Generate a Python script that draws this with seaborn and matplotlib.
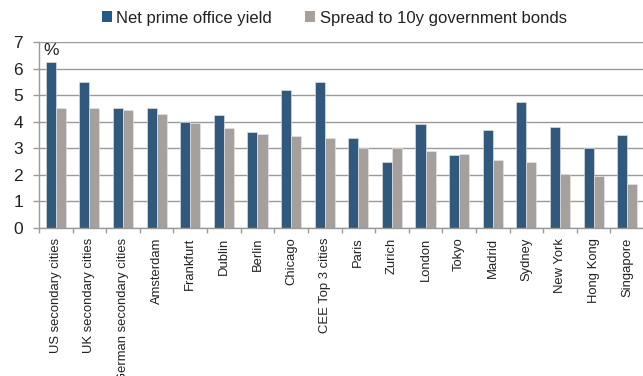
import numpy as np
import pandas as pd
import matplotlib
matplotlib.use("Agg")
import matplotlib.pyplot as plt
from matplotlib.patches import Patch
import seaborn as sns

# data
cities = ['US secondary cities', 'UK secondary cities', 'German secondary cities',
          'Amsterdam', 'Frankfurt', 'Dublin', 'Berlin', 'Chicago', 'CEE Top 3 cities',
          'Paris', 'Zurich', 'London', 'Tokyo', 'Madrid', 'Sydney', 'New York',
          'Hong Kong', 'Singapore']
office_yield = [6.25, 5.5, 4.5, 4.5, 4.0, 4.25, 3.6, 5.2, 5.5,
                3.4, 2.5, 3.9, 2.75, 3.7, 4.75, 3.8, 3.0, 3.5]
spread_10y = [4.5, 4.5, 4.45, 4.3, 3.95, 3.75, 3.55, 3.45, 3.4,
              3.0, 3.0, 2.9, 2.8, 2.55, 2.5, 2.05, 1.95, 1.65]
series_names = ['Net prime office yield', 'Spread to 10y government bonds']
yticks = [0, 1, 2, 3, 4, 5, 6, 7]

colors = ['#235A8A', '#A8A09A']
grid_col = '#9A9A9A'
text_col = '#222222'

sns.set_theme(style="white")
plt.rcParams['font.family'] = ['Liberation Sans', 'DejaVu Sans']

df = pd.DataFrame({
    'city': cities * 2,
    'value': office_yield + spread_10y,
    'series': [series_names[0]] * len(cities) + [series_names[1]] * len(cities),
})

fig = plt.figure(figsize=(6.43, 3.76), dpi=100)
ax = fig.add_axes([39 / 643, 148 / 376, 605 / 643, 186 / 376])

sns.barplot(data=df, x='city', y='value', hue='series', order=cities,
            hue_order=series_names, palette=colors, width=0.6, gap=0,
            edgecolor='#E8E8E8', linewidth=0.4, ax=ax, legend=False)

ax.set_ylim(0, 7)
ax.set_xlim(-0.5, len(cities) - 0.5)
ax.set_yticks(yticks)
ax.set_xlabel('')
ax.set_ylabel('')
ax.grid(axis='y', color=grid_col, linewidth=1.0)
ax.set_axisbelow(True)
for side in ['top', 'right']:
    ax.spines[side].set_visible(False)
for side in ['left', 'bottom']:
    ax.spines[side].set_color(grid_col)
    ax.spines[side].set_linewidth(1.0)

ax.tick_params(axis='y', length=4.5, width=1.0, color=grid_col, pad=7,
               labelsize=12.5, labelcolor=text_col, left=True)
ax.tick_params(axis='x', which='major', length=0, pad=7,
               labelsize=9.4, labelcolor=text_col)
ax.set_xticks(np.arange(len(cities) + 1) - 0.5, minor=True)
ax.tick_params(axis='x', which='minor', length=3.5, width=1.0,
               color=grid_col, bottom=True)
plt.setp(ax.get_xticklabels(), rotation=90, va='top', ha='center')

ax.text(0.007, 0.995, '%', transform=ax.transAxes, ha='left', va='top',
        fontsize=12.5, color=text_col)

handles = [Patch(facecolor=c, edgecolor='none') for c in colors]
fig.legend(handles, series_names, loc='center', bbox_to_anchor=(0.52, 0.952),
           ncol=2, frameon=False, fontsize=12, handlelength=0.6,
           handleheight=0.6, handletextpad=0.25, columnspacing=2.0,
           labelcolor=text_col)

fig.savefig('out.png', dpi=100)
